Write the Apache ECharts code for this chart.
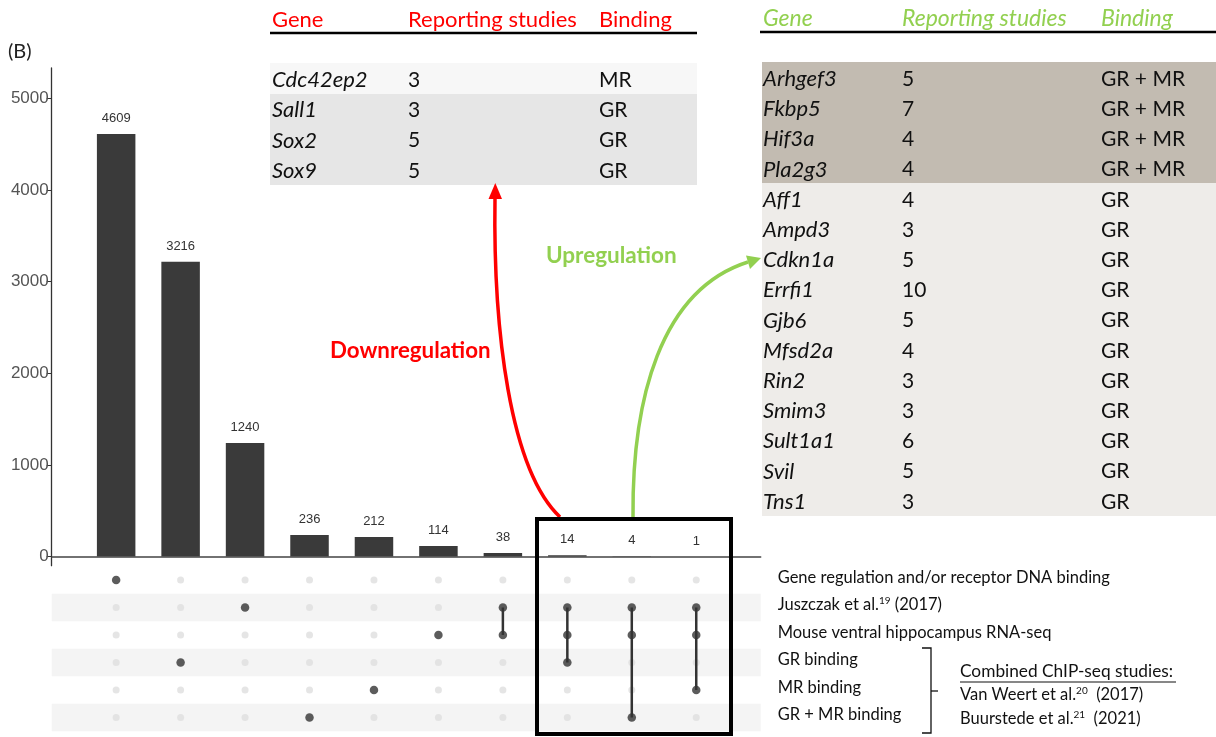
<!DOCTYPE html>
<html>
<head>
<meta charset="utf-8">
<script src="https://cdn.jsdelivr.net/npm/echarts@6/dist/echarts.min.js"></script>
<style>
html,body{margin:0;padding:0;background:#fff;}
#main{width:1216px;height:737px;}
</style>
</head>
<body>
<div id="main"></div>
<script>
// ---------------- data ----------------
const setNames = [
  'Gene regulation and/or receptor DNA binding',
  'Juszczak et al.{sup|19} (2017)',
  'Mouse ventral hippocampus RNA-seq',
  'GR binding',
  'MR binding',
  'GR + MR binding'
];
const intersectionSizes = [4609, 3216, 1240, 236, 212, 114, 38, 14, 4, 1];
const intersectionSets = [[0], [3], [1], [5], [4], [2], [1, 2], [1, 2, 3], [1, 2, 5], [1, 2, 4]];
const yTickValues = [0, 1000, 2000, 3000, 4000, 5000];

const tableHeaders = ['Gene', 'Reporting studies', 'Binding'];
const downGenes = ['Cdc42ep2', 'Sall1', 'Sox2', 'Sox9'];
const downStudies = [3, 3, 5, 5];
const downBinding = ['MR', 'GR', 'GR', 'GR'];
const upGenes = ['Arhgef3', 'Fkbp5', 'Hif3a', 'Pla2g3', 'Aff1', 'Ampd3', 'Cdkn1a', 'Errfi1', 'Gjb6', 'Mfsd2a', 'Rin2', 'Smim3', 'Sult1a1', 'Svil', 'Tns1'];
const upStudies = [5, 7, 4, 4, 4, 3, 5, 10, 5, 4, 3, 3, 6, 5, 3];
const upBinding = ['GR + MR', 'GR + MR', 'GR + MR', 'GR + MR', 'GR', 'GR', 'GR', 'GR', 'GR', 'GR', 'GR', 'GR', 'GR', 'GR', 'GR'];

// ---------------- styles ----------------
const SANS = 'Lato';
const RED = '#ff0000';
const GREEN = '#92d050';

const chart = echarts.init(document.getElementById('main'), null, {renderer: 'canvas'});

const nSets = setNames.length;
const memberDots = [], emptyDots = [];
intersectionSets.forEach((sets, i) => {
  for (let r = 0; r < nSets; r++) {
    (sets.indexOf(r) >= 0 ? memberDots : emptyDots).push([i, r]);
  }
});
const connectorSeries = intersectionSets
  .map((sets, i) => ({sets, i}))
  .filter(o => o.sets.length > 1)
  .map(o => ({
    type: 'line', xAxisIndex: 1, yAxisIndex: 1, symbol: 'none', silent: true,
    lineStyle: {color: '#333', width: 2.5},
    data: [[o.i, Math.min(...o.sets)], [o.i, Math.max(...o.sets)]],
    z: 3
  }));

// tables as graphic text
const graphics = [];
function addText(x, y, text, opt) {
  graphics.push({
    type: 'text', x: x, y: y, silent: true, z: 10,
    style: Object.assign({
      text: text, fill: '#111', fontFamily: SANS, fontSize: 21,
      align: 'left', verticalAlign: 'middle', textAlign: 'left', textVerticalAlign: 'middle'
    }, opt || {})
  });
}
function addRect(x, y, w, h, fill) {
  graphics.push({type: 'rect', silent: true, z: 1, shape: {x, y, width: w, height: h}, style: {fill}});
}
function addLine(x1, y1, x2, y2, stroke, lw) {
  graphics.push({type: 'line', silent: true, z: 5, shape: {x1, y1, x2, y2}, style: {stroke, lineWidth: lw}});
}
const GENE_STYLE = {fontStyle: 'italic', fontSize: 22};

// left (downregulation) table
const dCols = [272, 408, 599];
addRect(270, 63, 427, 31, '#f7f7f7');
addRect(270, 94, 427, 91, '#e6e6e6');
tableHeaders.forEach((h, k) => addText(dCols[k], 20, h, {fill: RED, fontSize: 22}));
addLine(270, 33, 697, 33, '#000', 2.5);
downGenes.forEach((g, i) => {
  const y = 80 + i * 30.3;
  addText(dCols[0], y, g, GENE_STYLE);
  addText(dCols[1], y, String(downStudies[i]));
  addText(dCols[2], y, downBinding[i]);
});

// right (upregulation) table
const uCols = [763, 902, 1101];
addRect(762, 62, 454, 121, '#c2bbb1');
addRect(762, 183, 454, 333, '#eeece9');
tableHeaders.forEach((h, k) => addText(uCols[k], 19, h, {fill: GREEN, fontSize: 23, fontStyle: 'italic'}));
addLine(760, 32, 1216, 32, '#000', 2.5);
upGenes.forEach((g, i) => {
  const y = 79 + i * 30.2;
  addText(uCols[0], y, g, GENE_STYLE);
  addText(uCols[1], y, String(upStudies[i]));
  addText(uCols[2], y, upBinding[i]);
});

// panel letter
addText(8, 52, '(B)', {fontSize: 20, fill: '#222'});

// arrows
graphics.push({type: 'bezierCurve', silent: true, z: 6,
  shape: {x1: 560, y1: 517, cpx1: 510, cpy1: 470, cpx2: 493, cpy2: 330, x2: 495, y2: 198},
  style: {stroke: RED, lineWidth: 3.5, fill: null}});
graphics.push({type: 'polygon', silent: true, z: 6,
  shape: {points: [[495.3, 183], [488.5, 199], [502, 199]]}, style: {fill: RED}});
graphics.push({type: 'bezierCurve', silent: true, z: 6,
  shape: {x1: 633, y1: 517, cpx1: 632, cpy1: 400, cpx2: 660, cpy2: 290, x2: 748, y2: 262},
  style: {stroke: GREEN, lineWidth: 3.5, fill: null}});
graphics.push({type: 'polygon', silent: true, z: 6,
  shape: {points: [[761, 258], [746, 255.5], [750, 269]]}, style: {fill: GREEN}});
addText(330, 351, 'Downregulation', {fill: RED, fontWeight: 'bold', fontSize: 22.3});
addText(546, 256, 'Upregulation', {fill: GREEN, fontWeight: 'bold', fontSize: 22.5});

// highlight box around the 3-set intersections
graphics.push({type: 'rect', silent: true, z: 7,
  shape: {x: 537, y: 519, width: 194, height: 215},
  style: {stroke: '#000', lineWidth: 4, fill: null}});

// bracket + notes
graphics.push({type: 'polyline', silent: true, z: 6,
  shape: {points: [[922, 648], [931, 648], [931, 733], [922, 733]]},
  style: {stroke: '#111', lineWidth: 1.3, fill: null}});
addLine(931, 691, 938, 691, '#111', 1.3);
addText(960, 671, 'Combined ChIP-seq studies:', {fontSize: 17.3});
addLine(960, 682, 1176, 682, '#111', 1.2);
const SUP_RICH = {sup: {fontSize: 10, fontFamily: SANS, fill: '#111', color: '#111', padding: [0, 0, 9, 0]}};
graphics.push({type: 'text', x: 960, y: 695, silent: true, z: 10,
  style: {text: 'Van Weert et al.{sup|20}  (2017)', fill: '#111', fontFamily: SANS, fontSize: 16.5,
    verticalAlign: 'middle', textVerticalAlign: 'middle', rich: SUP_RICH}});
graphics.push({type: 'text', x: 960, y: 719, silent: true, z: 10,
  style: {text: 'Buurstede et al.{sup|21}  (2021)', fill: '#111', fontFamily: SANS, fontSize: 16.5,
    verticalAlign: 'middle', textVerticalAlign: 'middle', rich: SUP_RICH}});

const option = {
  animation: false,
  backgroundColor: '#fff',
  grid: [
    {left: 51.7, right: 455.3, top: 68, bottom: 171.3, containLabel: false},
    {left: 51.7, right: 455.3, top: 566.25, height: 165, containLabel: false}
  ],
  xAxis: [
    {type: 'value', gridIndex: 0, min: -1, max: 10,
      axisLine: {show: true, onZero: true, lineStyle: {color: '#444', width: 1.5}},
      axisTick: {show: false}, axisLabel: {show: false}, splitLine: {show: false}},
    {type: 'value', gridIndex: 1, min: -1, max: 10, show: false, splitLine: {show: false}}
  ],
  yAxis: [
    {type: 'value', gridIndex: 0, min: -100, max: 5330,
      axisLine: {show: true, onZero: false, lineStyle: {color: '#333', width: 1.3}},
      axisTick: {show: true, length: 5, customValues: yTickValues, lineStyle: {color: '#333'}},
      axisLabel: {customValues: yTickValues, fontSize: 17, color: '#555', margin: 3,
        fontFamily: 'Liberation Sans', formatter: v => String(v)},
      splitLine: {show: false}},
    {type: 'category', gridIndex: 1, data: setNames, inverse: true, position: 'right',
      axisLine: {show: false}, axisTick: {show: false},
      axisLabel: {margin: 17, color: '#111', fontSize: 16.5, fontFamily: SANS, padding: [0, 0, 5, 0],
        rich: {sup: {fontSize: 10, fontFamily: SANS, color: '#111', padding: [0, 0, 9, 0]}}},
      splitArea: {show: true, areaStyle: {color: ['rgba(255,255,255,0)', '#f4f4f4']}},
      splitLine: {show: false}}
  ],
  series: [
    {type: 'bar', xAxisIndex: 0, yAxisIndex: 0, barWidth: 38.5,
      itemStyle: {color: '#3a3a3a'},
      label: {show: true, position: 'top', distance: 9, fontSize: 13, color: '#333', fontFamily: 'Liberation Sans'},
      data: intersectionSizes.map((v, i) => [i, v])},
    {type: 'scatter', xAxisIndex: 1, yAxisIndex: 1, symbolSize: 7, silent: true,
      itemStyle: {color: '#dedede'}, data: emptyDots, z: 2},
    ...connectorSeries,
    {type: 'scatter', xAxisIndex: 1, yAxisIndex: 1, symbolSize: 8.5, silent: true,
      itemStyle: {color: '#333'}, data: memberDots, z: 4}
  ],
  graphic: graphics
};
chart.setOption(option);
</script>
</body>
</html>
